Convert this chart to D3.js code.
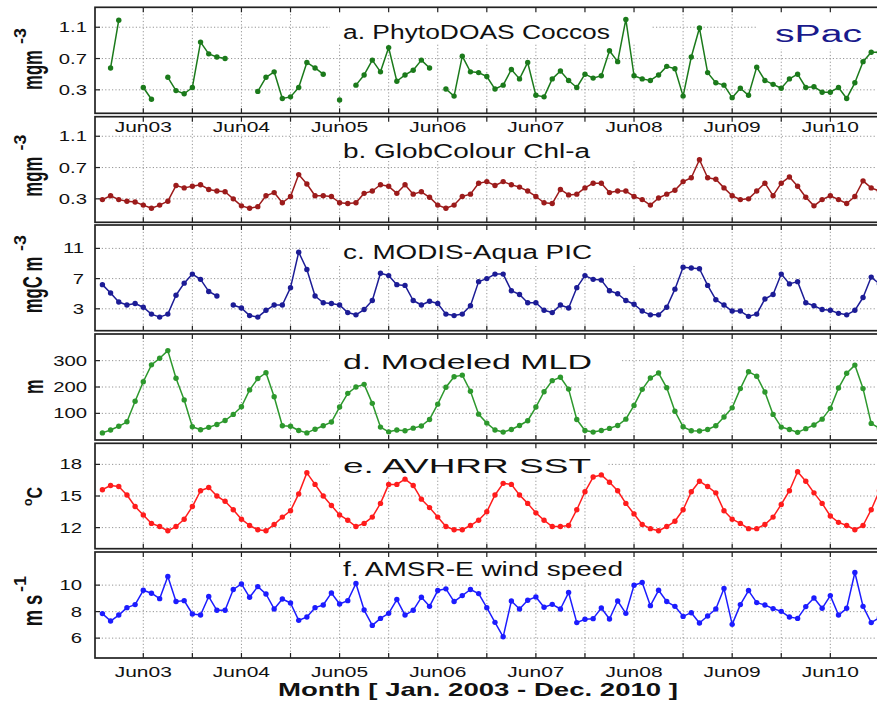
<!DOCTYPE html>
<html><head><meta charset="utf-8">
<script src="https://cdn.jsdelivr.net/npm/d3@7"></script>
<style>body{margin:0;background:#fff}svg{display:block}</style>
</head><body>
<svg id="c" width="877" height="703"></svg>
<script>
// ---------------- DATA (monthly, Jan 2003 .. Dec 2010) ----------------
const monthIndex = d3.range(96);
const gridMonths = d3.range(5, 95, 6);            // Jun / Dec of each year
const junMonths = [5, 17, 29, 41, 53, 65, 77, 89];
const junLabels = ["Jun03","Jun04","Jun05","Jun06","Jun07","Jun08","Jun09","Jun10"];

const coccos = [null,0.58,1.19,null,null,0.33,0.18,null,0.46,0.29,
  0.25,0.33,0.91,0.76,0.72,0.70,null,null,null,0.28,
  0.46,0.53,0.19,0.21,0.33,0.65,0.58,0.50,null,0.17,
  null,0.36,0.49,0.68,0.53,0.84,0.41,0.49,0.55,0.68,
  0.58,null,0.31,0.22,0.73,0.53,0.52,0.47,0.31,0.36,
  0.56,0.44,0.65,0.23,0.21,0.44,0.54,0.42,0.33,0.50,
  0.45,0.48,0.80,0.66,1.20,0.48,0.44,0.42,0.49,0.60,
  0.57,0.22,0.72,1.09,0.52,0.39,0.36,0.20,0.32,0.23,
  0.59,0.42,0.37,0.32,0.44,0.50,0.33,0.34,0.27,0.27,
  0.33,0.19,0.39,0.66,0.78,0.78];
const chla = [0.29,0.34,0.29,0.27,0.26,0.22,0.18,0.22,0.27,0.47,
  0.44,0.46,0.48,0.42,0.40,0.39,0.30,0.21,0.18,0.20,
  0.34,0.38,0.25,0.33,0.61,0.49,0.34,0.34,0.33,0.25,
  0.24,0.25,0.37,0.40,0.48,0.46,0.37,0.48,0.36,0.39,
  0.32,0.22,0.18,0.22,0.33,0.36,0.50,0.52,0.47,0.52,
  0.48,0.45,0.40,0.33,0.25,0.24,0.42,0.35,0.36,0.44,
  0.50,0.50,0.38,0.40,0.40,0.33,0.29,0.22,0.31,0.36,
  0.41,0.52,0.57,0.80,0.57,0.55,0.44,0.34,0.29,0.30,
  0.40,0.50,0.34,0.50,0.58,0.46,0.32,0.21,0.29,0.34,
  0.29,0.24,0.33,0.53,0.44,0.40];
const pic = [6.2,5.1,3.9,3.5,3.7,3.2,2.3,1.9,2.3,4.8,
  6.4,7.6,6.9,5.3,4.7,null,3.5,3.1,2.1,1.9,
  2.8,3.5,3.5,5.8,10.5,8.2,4.7,3.8,3.7,3.5,
  2.5,2.2,2.9,4.1,7.7,7.4,6.2,6.1,4.1,3.5,
  4.0,3.7,2.3,2.1,2.3,3.4,6.6,7.0,7.6,7.6,
  5.4,4.9,3.8,3.8,2.8,2.5,3.5,3.1,5.8,7.4,
  6.9,6.8,5.4,5.0,4.1,3.6,2.7,2.2,2.2,3.2,
  5.6,8.5,8.4,8.3,6.1,4.2,3.5,2.7,2.7,2.0,
  2.3,4.3,4.9,7.6,6.3,6.6,3.8,3.4,2.9,2.8,
  2.4,2.2,2.8,4.5,7.2,6.3];
const mld = [26,37,51,68,146,220,284,309,338,233,
  151,49,38,47,58,73,96,125,189,232,
  254,163,53,51,35,26,40,53,67,124,
  176,200,210,138,48,30,37,34,44,52,
  77,135,199,239,245,184,97,63,37,29,
  39,54,72,124,182,224,237,192,77,35,
  29,35,43,54,78,130,191,234,253,197,
  108,49,34,33,39,53,86,121,194,258,
  241,181,96,48,39,28,42,56,78,119,
  196,252,283,194,62,43];
const sst = [15.6,16.0,15.9,15.1,14.0,13.2,12.4,12.1,11.7,12.1,
  12.8,14.0,15.5,15.8,15.0,14.5,13.7,12.8,12.2,11.8,
  11.7,12.3,13.0,13.6,15.2,17.2,16.1,15.0,14.1,13.2,
  12.7,12.1,12.4,13.0,14.3,16.1,16.1,16.6,16.0,14.7,
  13.9,13.0,12.1,11.8,11.8,12.2,12.7,13.5,15.1,16.2,
  16.1,15.1,14.3,13.4,12.7,12.1,12.1,12.2,13.7,15.4,
  16.8,17.0,16.3,15.5,14.3,13.3,12.3,11.9,11.7,12.1,
  12.6,13.7,15.4,16.4,15.9,15.3,13.6,12.8,12.4,11.9,
  11.9,12.3,13.0,14.2,15.5,17.3,16.4,15.3,14.3,13.1,
  12.5,12.2,11.8,12.2,13.7,15.5];
const wind = [7.85,7.29,7.74,8.3,8.53,9.61,9.39,8.98,10.65,8.76,
  8.83,7.82,7.74,9.14,8.1,8.1,9.67,10.09,9.08,9.89,
  9.33,8.2,8.95,8.65,7.34,7.59,8.3,8.5,9.41,8.58,
  8.83,10.12,8.12,6.96,7.49,7.87,8.91,7.74,8.1,9.08,
  8.4,9.59,9.72,8.76,9.21,9.67,9.36,8.3,7.19,6.1,
  8.8,8.2,8.86,9.11,8.33,8.55,8.2,9.44,7.17,7.42,
  7.47,8.27,7.44,8.8,7.87,9.99,10.2,8.45,9.61,8.76,
  8.4,7.64,7.92,7.14,7.67,8.2,9.74,7.04,8.53,9.59,
  8.68,8.5,8.23,8.02,7.59,7.49,8.38,9.03,8.25,9.21,
  7.74,8.25,10.95,8.4,7.17,7.55];

const ticksChl = [0.3, 0.7, 1.1];
const ticksPic = [3, 7, 11];
const ticksMld = [100, 200, 300];
const ticksSst = [12, 15, 18];
const ticksWind = [6, 8, 10];

const titles = ["a. PhytoDOAS Coccos","b. GlobColour Chl-a","c. MODIS-Aqua PIC",
                "d. Modeled MLD","e. AVHRR SST","f. AMSR-E wind speed"];
const regionLabel = "sPac";
const xTitle = "Month [ Jan. 2003 - Dec. 2010 ]";

// ---------------- LAYOUT / STYLE ----------------
const panels = [
  {data: coccos, domain:[0,1.355], ticks: ticksChl, fmt: d3.format(".1f"), top:7.3, bottom:113.3, color:"#1b7a1b",
   titleW:267, titleY:39.3, boxR:651, boxB:44, tickR:87,
   unit:[{t:"mgm", y0:90, y1:50, bx:42, fs:28},{t:"-3", y0:44, y1:28, bx:25.5, fs:17}]},
  {data: chla, domain:[0,1.35], ticks: ticksChl, fmt: d3.format(".1f"), top:116.7, bottom:222.3, color:"#9c1b1b",
   titleW:247, titleY:157.7, boxR:651, boxB:161, tickR:87,
   unit:[{t:"mgm", y0:196.7, y1:156.7, bx:42, fs:28},{t:"-3", y0:150.5, y1:134.5, bx:25.5, fs:17}]},
  {data: pic, domain:[0.1,14.1], ticks: ticksPic, fmt: d3.format("d"), top:225, bottom:330.7, color:"#1c1c96",
   titleW:249, titleY:259.3, boxR:638, boxB:266, tickR:84,
   unit:[{t:"mgC m", y0:313.3, y1:256.7, bx:42, fs:28},{t:"-3", y0:251, y1:235, bx:25.5, fs:17}]},
  {data: mld, domain:[-1,401], ticks: ticksMld, fmt: d3.format("d"), top:334, bottom:440, color:"#2d982d",
   titleW:249, titleY:369.3, boxR:620, boxB:372, tickR:87,
   unit:[{t:"m", y0:394, y1:379.5, bx:43, fs:28}]},
  {data: sst, domain:[10,20], ticks: ticksSst, fmt: d3.format("d"), top:443.3, bottom:548.7, color:"#ff1c1c",
   titleW:248, titleY:473.3, boxR:607, boxB:477, tickR:82,
   unit:[{t:"C", y0:498.5, y1:487, bx:42, fs:22},{t:"o", y0:506, y1:498.5, bx:32, fs:13}]},
  {data: wind, domain:[4.5,12.5], ticks: ticksWind, fmt: d3.format("d"), top:552, bottom:658, color:"#1c1cff",
   titleW:280, titleY:575.6, boxR:627, boxB:580, tickR:82,
   unit:[{t:"m s", y0:626.3, y1:594.7, bx:42, fs:28},{t:"-1", y0:592, y1:576, bx:25.5, fs:17}]}
];

const FONT = "'Liberation Sans', Arial, Helvetica, sans-serif";
const svg = d3.select("#c");
const x = d3.scaleLinear().domain([0, 95]).range([102.4, 879.4]);
const L = 95, R = 886;

panels.forEach((p, k) => {
  const y = d3.scaleLinear().domain(p.domain).range([p.bottom, p.top]);
  const g = svg.append("g");
  // grid
  g.selectAll(".vg").data(gridMonths).join("line")
    .attr("x1", d => x(d)).attr("x2", d => x(d))
    .attr("y1", p.top).attr("y2", p.bottom)
    .attr("stroke", "#8a8a8a").attr("stroke-width", 0.9).attr("stroke-dasharray", "1.2,2.2");
  g.selectAll(".hg").data(p.ticks).join("line")
    .attr("x1", L).attr("x2", R)
    .attr("y1", d => y(d)).attr("y2", d => y(d))
    .attr("stroke", "#8a8a8a").attr("stroke-width", 0.9).attr("stroke-dasharray", "1.2,2.2");
  // title box
  g.append("rect").attr("x", 330).attr("y", p.top + 1).attr("width", p.boxR - 330)
    .attr("height", p.boxB - p.top - 1).attr("fill", "#fff");
  if (k === 0) {
    g.append("rect").attr("x", 758).attr("y", p.top + 1).attr("width", 130)
      .attr("height", 48 - p.top).attr("fill", "#fff");
  }
  if (k === 1) {
    g.selectAll(".lb").data(junMonths).join("rect")
      .attr("x", d => x(d) - 31).attr("y", p.top + 1).attr("width", 62).attr("height", 134.5 - p.top - 1)
      .attr("fill", "#fff");
  }
  // frame
  g.append("rect").attr("x", L).attr("y", p.top).attr("width", R - L).attr("height", p.bottom - p.top)
    .attr("fill", "none").attr("stroke", "#222").attr("stroke-width", 1.7);
  // ticks
  g.selectAll(".tt").data(gridMonths).join("line")
    .attr("x1", d => x(d)).attr("x2", d => x(d)).attr("y1", p.top).attr("y2", p.top + 5)
    .attr("stroke", "#222").attr("stroke-width", 1.2);
  g.selectAll(".tb").data(gridMonths).join("line")
    .attr("x1", d => x(d)).attr("x2", d => x(d)).attr("y1", p.bottom).attr("y2", p.bottom - 5)
    .attr("stroke", "#222").attr("stroke-width", 1.2);
  g.selectAll(".ty").data(p.ticks).join("line")
    .attr("x1", L).attr("x2", L + 5).attr("y1", d => y(d)).attr("y2", d => y(d))
    .attr("stroke", "#222").attr("stroke-width", 1.2);
  // y tick labels
  g.selectAll(".yl").data(p.ticks).join("text")
    .attr("transform", d => `translate(${p.tickR},${y(d) + 5}) scale(1.45,1)`)
    .attr("text-anchor", "end").attr("font-family", FONT).attr("font-size", 14).attr("fill", "#111")
    .text(d => p.fmt(d));
  // unit label
  p.unit.forEach(u => {
    g.append("text")
      .attr("transform", `translate(${u.bx},${u.y0}) rotate(-90)`)
      .attr("font-family", FONT).attr("font-weight", "bold").attr("font-size", u.fs).attr("fill", "#111")
      .attr("textLength", u.y0 - u.y1).attr("lengthAdjust", "spacingAndGlyphs")
      .text(u.t);
  });
  // title
  g.append("text").attr("x", 343).attr("y", p.titleY)
    .attr("font-family", FONT).attr("font-size", 20).attr("fill", "#111")
    .attr("textLength", p.titleW).attr("lengthAdjust", "spacingAndGlyphs")
    .text(titles[k]);
  if (k === 0) {
    g.append("text").attr("x", 775).attr("y", 41.7)
      .attr("font-family", FONT).attr("font-size", 23.5).attr("fill", "#1a1a8c")
      .attr("textLength", 87).attr("lengthAdjust", "spacingAndGlyphs")
      .text(regionLabel);
  }
  // series
  const pts = monthIndex.map(i => ({i, v: p.data[i]}));
  const line = d3.line().defined(d => d.v != null).x(d => x(d.i)).y(d => y(d.v));
  g.append("path").attr("d", line(pts)).attr("fill", "none")
    .attr("stroke", p.color).attr("stroke-width", 1.5).attr("stroke-linejoin", "round");
  g.selectAll(".pt").data(pts.filter(d => d.v != null)).join("circle")
    .attr("cx", d => x(d.i)).attr("cy", d => y(d.v)).attr("r", 2.7).attr("fill", p.color);
});

// x tick labels (top of panel b and bottom)
[132.3, 677.3].forEach(yy => {
  svg.selectAll(null).data(junMonths).join("text")
    .attr("transform", (d) => `translate(${x(d)},${yy}) scale(1.4,1)`)
    .attr("text-anchor", "middle").attr("font-family", FONT).attr("font-size", 15).attr("fill", "#111")
    .text((d, i) => junLabels[i]);
});

// x axis title
svg.append("text").attr("x", 278).attr("y", 696)
  .attr("font-family", FONT).attr("font-weight", "bold").attr("font-size", 19).attr("fill", "#111")
  .attr("textLength", 400).attr("lengthAdjust", "spacingAndGlyphs")
  .text(xTitle);
</script>
</body></html>
